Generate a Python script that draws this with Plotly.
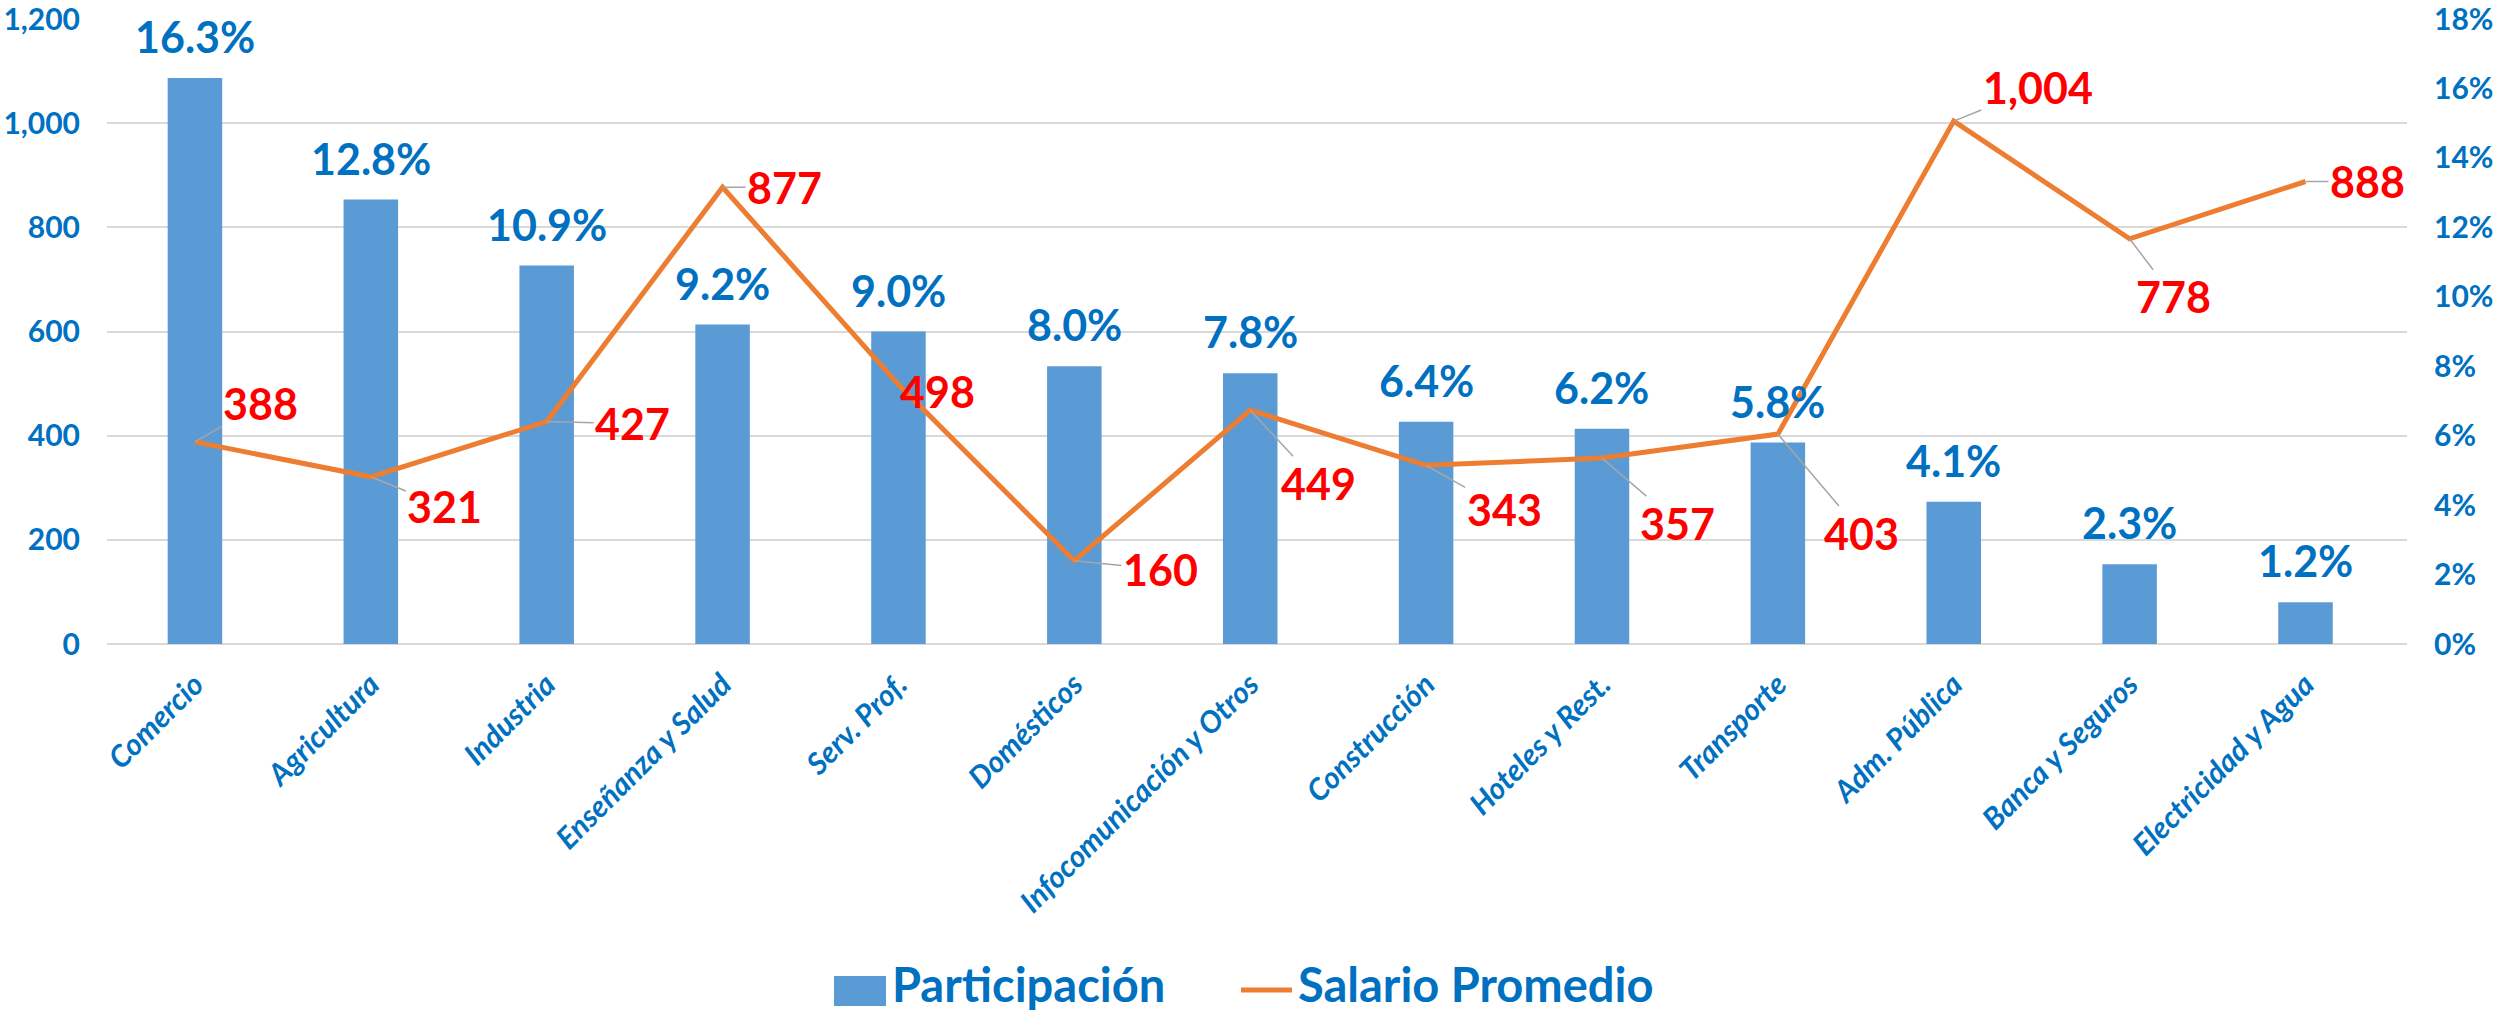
import plotly.graph_objects as go

categories = ["Comercio", "Agricultura", "Industria", "Enseñanza y Salud", "Serv. Prof.",
              "Domésticos", "Infocomunicación y Otros", "Construcción", "Hoteles y Rest.",
              "Transporte", "Adm. Pública", "Banca y Seguros", "Electricidad y Agua"]
participacion = [16.3, 12.8, 10.9, 9.2, 9.0, 8.0, 7.8, 6.4, 6.2, 5.8, 4.1, 2.3, 1.2]
salario = [388, 321, 427, 877, 498, 160, 449, 343, 357, 403, 1004, 778, 888]
pct_ticks = [0, 2, 4, 6, 8, 10, 12, 14, 16, 18]
pct_ticktext = [f"{t}%" for t in pct_ticks]
# label offsets (pixels) for the salary data labels
sal_dx = [66, 74, 86, 62, 39, 86, 68, 78, 76, 84, 84, 44, 62]
sal_dy = [-38, 30, 2, 0, 7, 9, 73, 44, 65, 99, -34, 58, 0]

BLUE_TXT = "#0070C0"
BAR_COLOR = "#5B9BD5"
LINE_COLOR = "#ED7D31"
FONT = "Lato"

fig = go.Figure()
fig.add_trace(go.Bar(
    x=categories, y=participacion, name="Participación",
    marker=dict(color=BAR_COLOR, line=dict(width=0)),
    yaxis="y",
))
fig.add_trace(go.Scatter(
    x=categories, y=salario, name="Salario Promedio", mode="lines",
    line=dict(color=LINE_COLOR, width=5),
    yaxis="y2",
))

annotations = []
for c, v in zip(categories, participacion):
    annotations.append(dict(
        x=c, y=v, xref="x", yref="y", text=f"{v:.1f}%", showarrow=False,
        yanchor="bottom", yshift=14,
        font=dict(family=FONT, size=43, color=BLUE_TXT, weight="bold"),
    ))
for c, v, dx, dy in zip(categories, salario, sal_dx, sal_dy):
    annotations.append(dict(
        x=c, y=v, xref="x", yref="y2", text=f"{v:,}", showarrow=True,
        ax=dx, ay=dy, arrowhead=0, arrowwidth=1.5, arrowcolor="#A6A6A6",
        font=dict(family=FONT, size=43, color="#FF0000", weight="bold"),
    ))

# legend (drawn in paper coordinates, below the category labels)
W, H = 2509, 1013
ML, MR, MT, MB = 107, 102, 19, 369
pw, ph = W - ML - MR, H - MT - MB
def px(xp):
    return (xp - ML) / pw
def py(yp):
    return (H - MB - yp) / ph

leg_font = dict(family=FONT, size=47, color=BLUE_TXT, weight="bold")
shapes = [
    dict(type="rect", xref="paper", yref="paper", x0=px(834), x1=px(886),
         y0=py(1006), y1=py(976), fillcolor=BAR_COLOR, line=dict(width=0)),
    dict(type="line", xref="paper", yref="paper", x0=px(1241), x1=px(1292),
         y0=py(990), y1=py(990), line=dict(color=LINE_COLOR, width=5)),
]
annotations.append(dict(xref="paper", yref="paper", x=px(890), y=py(984), xanchor="left",
                        yanchor="middle", text=fig.data[0].name, showarrow=False, font=leg_font))
annotations.append(dict(xref="paper", yref="paper", x=px(1296), y=py(984), xanchor="left",
                        yanchor="middle", text=fig.data[1].name, showarrow=False, font=leg_font))

fig.update_layout(
    width=W, height=H, autosize=False,
    margin=dict(l=ML, r=MR, t=MT, b=MB, pad=0, autoexpand=False),
    paper_bgcolor="white", plot_bgcolor="white",
    bargap=0.69,
    showlegend=False,
    xaxis=dict(
        type="category", tickangle=-45, showgrid=False, showline=False, zeroline=False,
        ticks="", ticklabelstandoff=16, automargin=False, ticklabeloverflow="allow",
        tickfont=dict(family=FONT, size=30, color=BLUE_TXT, weight="bold", style="italic"),
    ),
    yaxis=dict(
        side="right", range=[0, 18], tickmode="array", tickvals=pct_ticks, ticktext=pct_ticktext,
        showgrid=False, zeroline=False, showline=False, ticks="", ticklabelstandoff=26,
        automargin=False, ticklabeloverflow="allow",
        tickfont=dict(family=FONT, size=30, color=BLUE_TXT, weight="bold"),
    ),
    yaxis2=dict(
        overlaying="y", side="left", range=[0, 1200], dtick=200, tickformat=",d",
        showgrid=True, gridcolor="#D9D9D9", gridwidth=2,
        zeroline=True, zerolinecolor="#D9D9D9", zerolinewidth=2,
        showline=False, ticks="", ticklabelstandoff=26, automargin=False,
        ticklabeloverflow="allow",
        tickfont=dict(family=FONT, size=30, color=BLUE_TXT, weight="bold"),
    ),
    shapes=shapes,
    annotations=annotations,
)

fig.write_html("out.html", config={"displayModeBar": False},
               post_script="document.body.style.margin='0';")
